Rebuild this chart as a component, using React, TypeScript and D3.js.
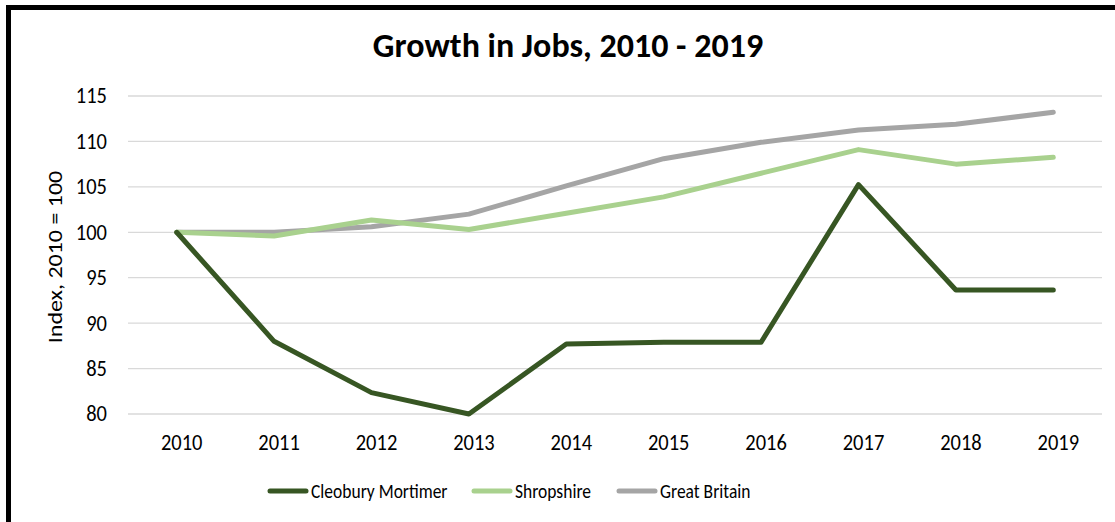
import React from "react";
import * as d3 from "d3";

const years = ["2010", "2011", "2012", "2013", "2014", "2015", "2016", "2017", "2018", "2019"];
const cleobury = [100, 88.0, 82.35, 80.0, 87.7, 87.9, 87.9, 105.25, 93.65, 93.65];
const shropshire = [100, 99.6, 101.35, 100.3, 102.1, 103.9, 106.5, 109.1, 107.5, 108.25];
const greatBritain = [100, 100, 100.6, 102.0, 105.1, 108.1, 109.9, 111.25, 111.9, 113.2];
const yTicks = [80, 85, 90, 95, 100, 105, 110, 115];

const seriesNames = ["Cleobury Mortimer", "Shropshire", "Great Britain"];
const seriesValues = [cleobury, shropshire, greatBritain];
const seriesColors = ["#375623", "#A9D18E", "#A5A5A5"];

const W = 1115;
const H = 522;
const font = "Carlito, Lato, sans-serif";

function drawChart(svgEl: SVGSVGElement) {
  const svg = d3.select(svgEl);
  svg.selectAll("*").remove();

  const x = d3.scaleBand().domain(years).range([128, 1102]);
  const y = d3.scaleLinear().domain([80, 115]).range([414, 96]);
  const cx = (yr: string) => (x(yr) as number) + x.bandwidth() / 2;

  svg.append("rect").attr("width", W).attr("height", H).attr("fill", "#fff");

  // frame (only left/top edges visible in the crop)
  svg
    .append("rect")
    .attr("x", 8.5)
    .attr("y", 7.5)
    .attr("width", W + 20)
    .attr("height", H + 20)
    .attr("fill", "none")
    .attr("stroke", "#000")
    .attr("stroke-width", 5);

  // title
  svg
    .append("text")
    .attr("x", 568)
    .attr("y", 57)
    .attr("text-anchor", "middle")
    .attr("font-family", font)
    .attr("font-weight", "bold")
    .attr("font-size", 34)
    .attr("fill", "#000")
    .text("Growth in Jobs, 2010 - 2019");

  // gridlines
  svg
    .append("g")
    .selectAll("line")
    .data(yTicks)
    .join("line")
    .attr("x1", 128)
    .attr("x2", 1102)
    .attr("y1", (d) => y(d))
    .attr("y2", (d) => y(d))
    .attr("stroke", "#D9D9D9")
    .attr("stroke-width", 1.3);

  // y ticks (source text is slightly stretched vertically)
  svg
    .append("g")
    .selectAll("text")
    .data(yTicks)
    .join("text")
    .attr("transform", (d) => `translate(107,${y(d)}) scale(1,1.1)`)
    .attr("dy", "0.33em")
    .attr("text-anchor", "end")
    .attr("font-family", font)
    .attr("font-size", 20.5)
    .attr("fill", "#000")
    .text((d) => d);

  // x ticks
  svg
    .append("g")
    .selectAll("text")
    .data(years)
    .join("text")
    .attr("transform", (d) => `translate(${cx(d) + 5},450) scale(1,1.1)`)
    .attr("text-anchor", "middle")
    .attr("font-family", font)
    .attr("font-size", 20.5)
    .attr("fill", "#000")
    .text((d) => d);

  // y axis title
  svg
    .append("text")
    .attr("transform", "translate(62,257) rotate(-90) scale(1.17,1)")
    .attr("text-anchor", "middle")
    .attr("font-family", font)
    .attr("font-size", 20.5)
    .attr("fill", "#000")
    .text("Index, 2010 = 100");

  const line = d3
    .line<number>()
    .x((_, i) => cx(years[i]))
    .y((d) => y(d));

  // draw grey first, dark green on top
  [2, 1, 0].forEach((k) => {
    svg
      .append("path")
      .datum(seriesValues[k])
      .attr("fill", "none")
      .attr("stroke", seriesColors[k])
      .attr("stroke-width", 5)
      .attr("stroke-linejoin", "round")
      .attr("stroke-linecap", "round")
      .attr("d", line);
  });

  // legend
  const legendX = [268, 472, 617];
  const lg = svg.append("g");
  seriesNames.forEach((name, i) => {
    lg.append("line")
      .attr("x1", legendX[i] + 2)
      .attr("x2", legendX[i] + 38)
      .attr("y1", 491)
      .attr("y2", 491)
      .attr("stroke", seriesColors[i])
      .attr("stroke-width", 5)
      .attr("stroke-linecap", "round");
    lg.append("text")
      .attr("transform", `translate(${legendX[i] + 43},491) scale(1,1.18)`)
      .attr("dy", "0.33em")
      .attr("font-family", font)
      .attr("font-size", 17.5)
      .attr("fill", "#000")
      .text(name);
  });
}

export default function App() {
  const ref = React.useRef<SVGSVGElement>(null);
  React.useEffect(() => {
    if (ref.current) drawChart(ref.current);
  }, []);
  return (
    <svg
      ref={ref}
      width={W}
      height={H}
      style={{ position: "absolute", left: 0, top: 0, display: "block" }}
    />
  );
}
